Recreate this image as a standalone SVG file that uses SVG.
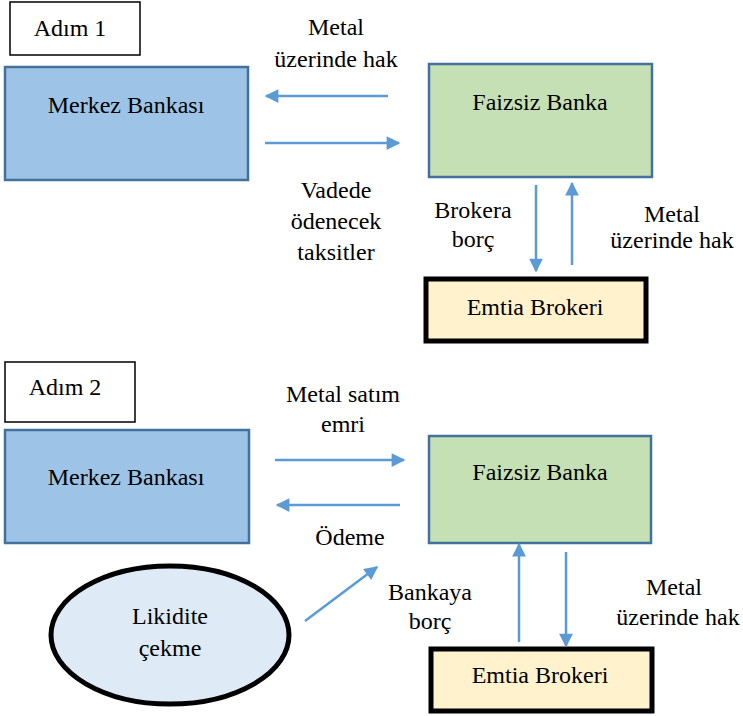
<svg xmlns="http://www.w3.org/2000/svg" width="743" height="716" viewBox="0 0 743 716">
  <style>
    text { font-family: 'Liberation Serif', 'Times New Roman', serif; font-size: 24px; fill: #000; text-anchor: middle; }
    .step { fill: #fff; stroke: #000; stroke-width: 1.5; }
    .central { fill: #9DC3E6; stroke: #41719C; stroke-width: 2.5; }
    .bank { fill: #C5E0B4; stroke: #41719C; stroke-width: 2.5; }
    .broker { fill: #FFF2CC; stroke: #000; stroke-width: 5; }
    .liq { fill: #DEEBF7; stroke: #000; stroke-width: 5; }
    .flow { stroke: #5B9BD5; stroke-width: 2.5; fill: none; marker-end: url(#head); }
  </style>
  <defs>
    <marker id="head" viewBox="0 0 10 10" refX="9" refY="5" markerWidth="6" markerHeight="5.5" markerUnits="strokeWidth" orient="auto">
      <path d="M0,0 L10,5 L0,10 Z" fill="#5B9BD5"/>
    </marker>
  </defs>

  <!-- Step 1 -->
  <g id="step1">
    <rect class="step" x="10" y="2" width="130" height="53"/>
    <text x="70" y="36">Adım 1</text>
  </g>
  <g id="merkez1">
    <rect class="central" x="5" y="67" width="243" height="113"/>
    <text x="126" y="113">Merkez Bankası</text>
  </g>
  <g id="faizsiz1">
    <rect class="bank" x="429" y="64" width="223" height="113"/>
    <text x="540" y="110">Faizsiz Banka</text>
  </g>
  <g id="broker1">
    <rect class="broker" x="426" y="279" width="220" height="62"/>
    <text x="535" y="315">Emtia Brokeri</text>
  </g>

  <!-- Step 2 -->
  <g id="step2">
    <rect class="step" x="5" y="362" width="130" height="60"/>
    <text x="65" y="395">Adım 2</text>
  </g>
  <g id="merkez2">
    <rect class="central" x="5" y="430" width="244" height="113"/>
    <text x="126" y="485">Merkez Bankası</text>
  </g>
  <g id="faizsiz2">
    <rect class="bank" x="429" y="436" width="222" height="107"/>
    <text x="540" y="480">Faizsiz Banka</text>
  </g>
  <g id="broker2">
    <rect class="broker" x="431" y="649" width="221" height="62"/>
    <text x="540" y="683">Emtia Brokeri</text>
  </g>
  <g id="likidite">
    <ellipse class="liq" cx="170" cy="635" rx="119" ry="69"/>
    <text x="170" y="624">Likidite</text>
    <text x="170" y="656">çekme</text>
  </g>

  <!-- Flows between nodes -->
  <g id="connectors">
    <line class="flow" x1="388" y1="96" x2="266" y2="96"/>
    <line class="flow" x1="265" y1="143" x2="399" y2="143"/>
    <line class="flow" x1="536" y1="185" x2="536" y2="271"/>
    <line class="flow" x1="572" y1="265" x2="572" y2="183"/>

    <line class="flow" x1="275" y1="460" x2="404" y2="460"/>
    <line class="flow" x1="400" y1="505" x2="277" y2="505"/>
    <line class="flow" x1="305" y1="621" x2="377" y2="567"/>
    <line class="flow" x1="519" y1="642" x2="519" y2="544"/>
    <line class="flow" x1="566" y1="552" x2="566" y2="646"/>
  </g>

  <!-- Flow labels -->
  <g id="labels">
    <text x="336" y="35">Metal</text>
    <text x="336" y="67">üzerinde hak</text>
    <text x="336" y="198">Vadede</text>
    <text x="336" y="229">ödenecek</text>
    <text x="336" y="260">taksitler</text>
    <text x="473" y="218">Brokera</text>
    <text x="473" y="247">borç</text>
    <text x="672" y="222">Metal</text>
    <text x="672" y="248">üzerinde hak</text>

    <text x="343" y="402">Metal satım</text>
    <text x="343" y="432">emri</text>
    <text x="350" y="545">Ödeme</text>
    <text x="430" y="600">Bankaya</text>
    <text x="430" y="629">borç</text>
    <text x="674" y="595">Metal</text>
    <text x="678" y="625">üzerinde hak</text>
  </g>
</svg>
